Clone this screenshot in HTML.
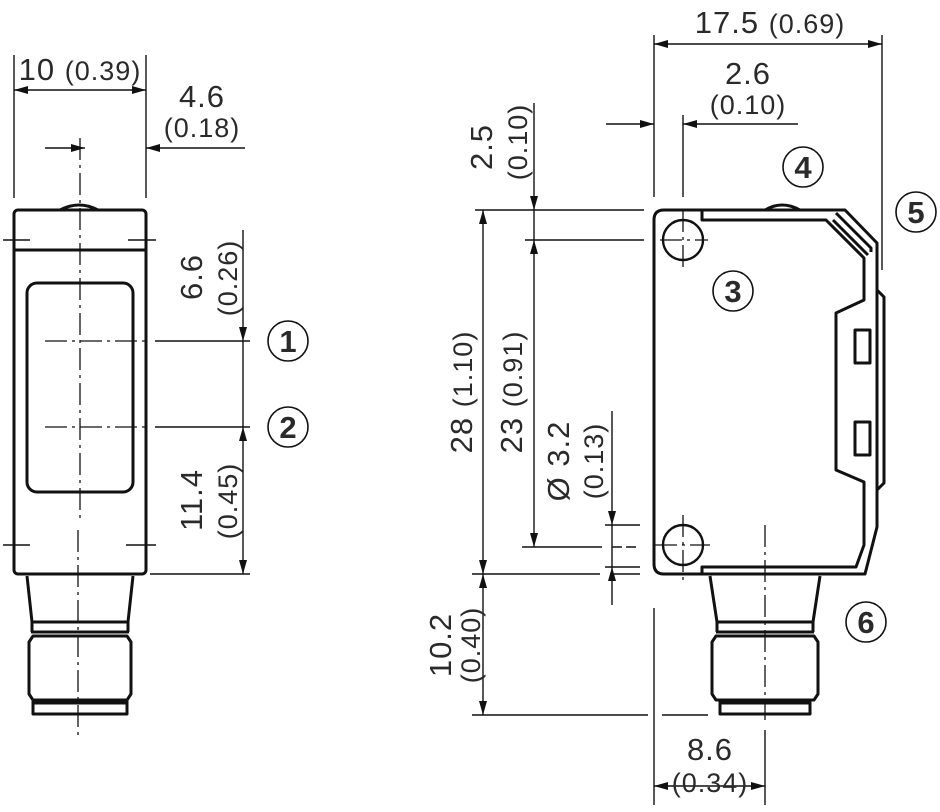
<!DOCTYPE html>
<html><head><meta charset="utf-8"><style>
html,body{margin:0;padding:0;background:#fff}
svg{display:block}
text{font-family:"Liberation Sans",sans-serif;fill:#2a2a2a}
</style></head><body>
<svg width="940" height="812" viewBox="0 0 940 812" xmlns="http://www.w3.org/2000/svg">
<defs>
<marker id="a" viewBox="0 0 14 8" refX="14" refY="4" markerWidth="14" markerHeight="8" markerUnits="userSpaceOnUse" orient="auto-start-reverse"><path d="M0,0 L14,4 L0,8 z" fill="#111"/></marker>
</defs>
<g fill="none" stroke="#111" stroke-width="1.4">
<line x1="14" y1="55" x2="14" y2="198"/>
<line x1="146" y1="55" x2="146" y2="198"/>
<line x1="14" y1="90" x2="146" y2="90" marker-start="url(#a)" marker-end="url(#a)"/>
<line x1="45" y1="148" x2="85" y2="148" marker-end="url(#a)"/>
<line x1="245" y1="148" x2="146" y2="148" marker-end="url(#a)"/>
<line x1="243" y1="230" x2="243" y2="341" marker-end="url(#a)"/>
<line x1="243" y1="341" x2="243" y2="427"/>
<line x1="243" y1="427" x2="243" y2="574" marker-start="url(#a)" marker-end="url(#a)"/>
<line x1="155" y1="341" x2="250" y2="341"/>
<line x1="155" y1="427" x2="250" y2="427"/>
<line x1="150" y1="574" x2="250" y2="574"/>
<line x1="654" y1="35" x2="654" y2="197"/>
<line x1="882" y1="35" x2="882" y2="270"/>
<line x1="654" y1="44" x2="882" y2="44" marker-start="url(#a)" marker-end="url(#a)"/>
<line x1="683" y1="115" x2="683" y2="197"/>
<line x1="606" y1="124" x2="654" y2="124" marker-end="url(#a)"/>
<line x1="798" y1="124" x2="683" y2="124" marker-end="url(#a)"/>
<line x1="534" y1="103" x2="534" y2="210" marker-end="url(#a)"/>
<line x1="534" y1="210" x2="534" y2="240"/>
<line x1="475" y1="210" x2="644" y2="210"/>
<line x1="525" y1="240" x2="644" y2="240"/>
<line x1="483" y1="210" x2="483" y2="574" marker-start="url(#a)" marker-end="url(#a)"/>
<line x1="534" y1="240" x2="534" y2="547" marker-start="url(#a)" marker-end="url(#a)"/>
<line x1="522" y1="547" x2="602" y2="547"/>
<line x1="612" y1="547" x2="640" y2="547" stroke-dasharray="10 4"/>
<line x1="612" y1="411" x2="612" y2="525" marker-end="url(#a)"/>
<line x1="612" y1="525" x2="612" y2="567"/>
<line x1="612" y1="605" x2="612" y2="567" marker-end="url(#a)"/>
<line x1="605" y1="525" x2="640" y2="525"/>
<line x1="605" y1="567" x2="640" y2="567"/>
<line x1="472" y1="574" x2="600" y2="574"/>
<line x1="610" y1="574" x2="640" y2="574"/>
<line x1="483" y1="574" x2="483" y2="715" marker-start="url(#a)" marker-end="url(#a)"/>
<line x1="472" y1="715" x2="648" y2="715"/>
<line x1="662" y1="715" x2="708" y2="715"/>
<line x1="654" y1="608" x2="654" y2="805"/>
<line x1="765" y1="730" x2="765" y2="805"/>
<line x1="654" y1="786" x2="765" y2="786" marker-start="url(#a)" marker-end="url(#a)"/>
</g>
<g fill="none" stroke="#111" stroke-width="1.3" stroke-dasharray="22 5 3 5">
<line x1="80" y1="138" x2="80" y2="520"/>
<line x1="78" y1="530" x2="78" y2="738"/>
<line x1="45" y1="341" x2="145" y2="341"/>
<line x1="45" y1="427" x2="145" y2="427"/>
<line x1="765" y1="525" x2="765" y2="720"/>
<line x1="683" y1="210" x2="683" y2="272"/>
<line x1="660" y1="240" x2="708" y2="240"/>
<line x1="683" y1="515" x2="683" y2="580"/>
<line x1="655" y1="545" x2="710" y2="545"/>
</g>
<g stroke="#111" stroke-width="1.4">
<line x1="3" y1="240" x2="30" y2="240"/><line x1="128" y1="240" x2="156" y2="240"/>
<line x1="3" y1="545" x2="30" y2="545"/><line x1="126" y1="545" x2="156" y2="545"/>
</g>
<g fill="none" stroke="#111" stroke-width="3" stroke-linejoin="round">
<path d="M60,210 Q79,200 98,210"/>
<rect x="14" y="210" width="132" height="364" rx="4"/>
<line x1="14" y1="250" x2="146" y2="250"/>
<rect x="27" y="283" width="106" height="209" rx="10"/>
<path d="M27,576 L32,622 L128,622 L133,576"/>
<path d="M32,622 L32,632 M128,622 L128,632 M31,632 L129,632"/>
<path d="M33,636 L127,636 L131,642 L131,694 L127,700 L33,700 L29,694 L29,642 Z"/>
<path d="M33,700 L33,714 L127,714 L127,700"/>
<line x1="33" y1="703" x2="127" y2="703"/>
</g>
<g fill="none" stroke="#111" stroke-width="3" stroke-linejoin="round">
<path d="M765,210 Q782,200 800,210"/>
<path d="M664,210 L845,210 L877,243 L877,527 L865,574 L664,574 Q654,574 654,564 L654,220 Q654,210 664,210 Z"/>
<path d="M702,210 L702,220 L826,220 L864,258 L864,300 L836,313 L836,470 L864,482 L864,545 L856,567 L702,567 L702,574"/>
<path d="M836,213 L871,248 L871,252 M833,220 L868,255"/>
<path d="M877,290 L884,297 L884,483 L877,490"/>
<rect x="855" y="330" width="15" height="33"/>
<rect x="855" y="422" width="15" height="33"/>
<circle cx="683" cy="240" r="20" stroke-width="2.4"/>
<circle cx="683" cy="545" r="20" stroke-width="2.4"/>
<path d="M710,576 L717,622 L813,622 L820,576"/>
<path d="M717,622 L717,632 M813,622 L813,632 M716,632 L814,632"/>
<path d="M716,636 L814,636 L818,642 L818,694 L814,700 L716,700 L712,694 L712,642 Z"/>
<path d="M720,700 L720,714 L810,714 L810,700"/>
<line x1="720" y1="703" x2="810" y2="703"/>
</g>
<g fill="none" stroke="#111" stroke-width="1.6">
<circle cx="288" cy="341" r="20"/><circle cx="288" cy="427" r="20"/>
<circle cx="733" cy="291" r="20"/><circle cx="803" cy="167" r="20"/>
<circle cx="916" cy="212" r="20"/><circle cx="866" cy="622" r="20"/>
</g>
<g font-size="31" font-weight="bold" text-anchor="middle">
<text x="288" y="352">1</text><text x="288" y="438">2</text>
<text x="733" y="302">3</text><text x="803" y="178">4</text>
<text x="916" y="223">5</text><text x="866" y="633">6</text>
</g>
<g font-size="31" letter-spacing="1">
<text x="80" y="80" text-anchor="middle">10 <tspan font-size="27">(0.39)</tspan></text>
<text x="202" y="107" text-anchor="middle">4.6</text>
<text x="202" y="137" text-anchor="middle" font-size="27">(0.18)</text>
<text x="770" y="33" text-anchor="middle">17.5 <tspan font-size="27">(0.69)</tspan></text>
<text x="748" y="84" text-anchor="middle">2.6</text>
<text x="748" y="114" text-anchor="middle" font-size="27">(0.10)</text>
<text x="710" y="760" text-anchor="middle">8.6</text>
<text x="710" y="792" text-anchor="middle" font-size="27">(0.34)</text>
<text transform="translate(202,277) rotate(-90)" text-anchor="middle">6.6</text>
<text transform="translate(237,278) rotate(-90)" text-anchor="middle" font-size="27">(0.26)</text>
<text transform="translate(202,500) rotate(-90)" text-anchor="middle">11.4</text>
<text transform="translate(237,501) rotate(-90)" text-anchor="middle" font-size="27">(0.45)</text>
<text transform="translate(492,147) rotate(-90)" text-anchor="middle">2.5</text>
<text transform="translate(527,142) rotate(-90)" text-anchor="middle" font-size="27">(0.10)</text>
<text transform="translate(472,392) rotate(-90)" text-anchor="middle">28 <tspan font-size="27">(1.10)</tspan></text>
<text transform="translate(522,392) rotate(-90)" text-anchor="middle">23 <tspan font-size="27">(0.91)</tspan></text>
<text transform="translate(569,461) rotate(-90)" text-anchor="middle">Ø 3.2</text>
<text transform="translate(603,461) rotate(-90)" text-anchor="middle" font-size="27">(0.13)</text>
<text transform="translate(451,645) rotate(-90)" text-anchor="middle">10.2</text>
<text transform="translate(480,645) rotate(-90)" text-anchor="middle" font-size="27">(0.40)</text>
</g>
</svg>
</body></html>
